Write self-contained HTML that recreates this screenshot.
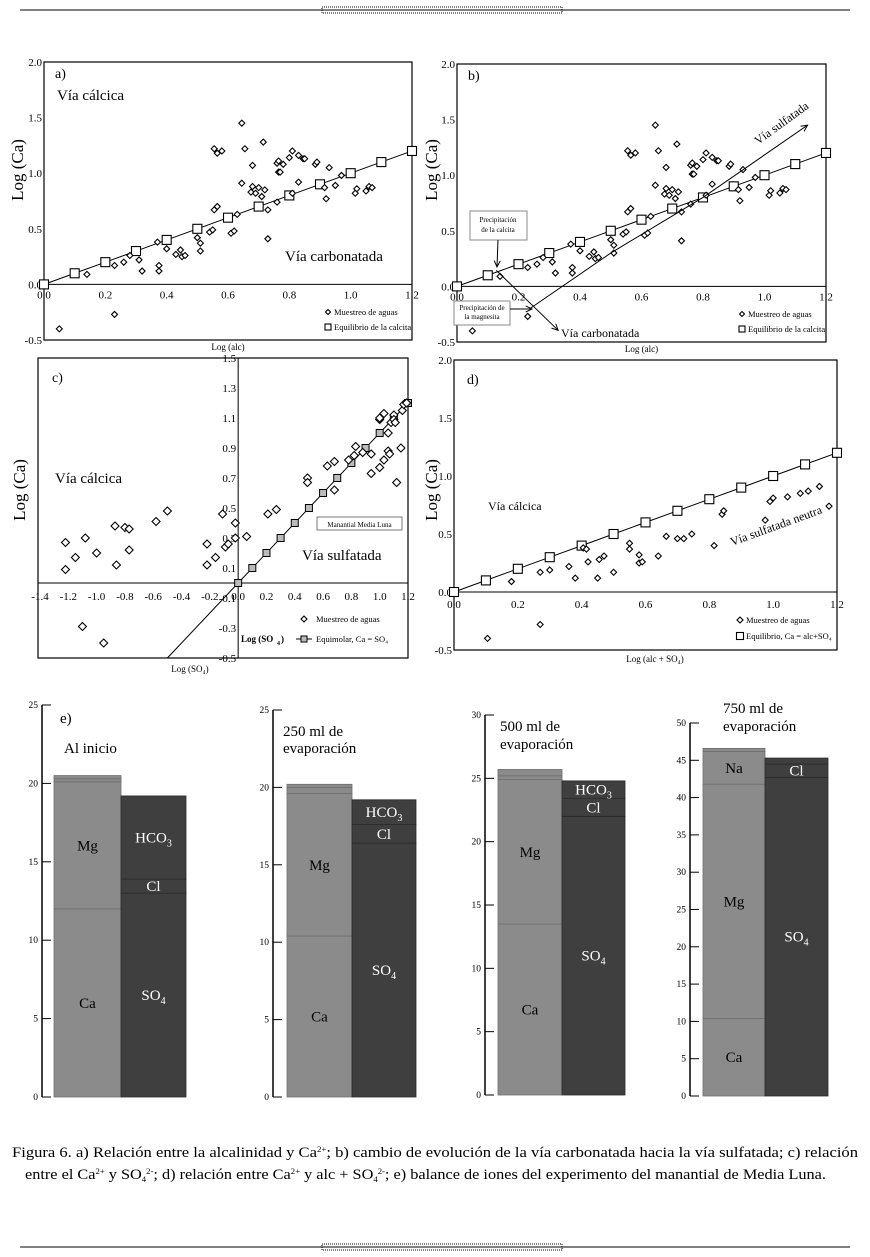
<!DOCTYPE html>
<html><head><meta charset="utf-8">
<style>
html,body{margin:0;padding:0;background:#fff;}
svg{display:block;font-family:"Liberation Serif",serif;}
</style></head>
<body>
<svg id="fig" width="870" height="1257" viewBox="0 0 870 1257" xmlns="http://www.w3.org/2000/svg">
  <g>
    <line x1="20" y1="10" x2="850" y2="10" stroke="#000" stroke-width="1"/>
    <rect x="322" y="7" width="240" height="6" fill="none" stroke="#000" stroke-width="1" stroke-dasharray="1 1"/>
  </g>
  <g>
    <line x1="20" y1="1247" x2="850" y2="1247" stroke="#000" stroke-width="1"/>
    <rect x="322" y="1244" width="240" height="6" fill="none" stroke="#000" stroke-width="1" stroke-dasharray="1 1"/>
  </g>
  <g id="layer"></g>
  <text x="12" y="1157" font-size="15" textLength="846" lengthAdjust="spacingAndGlyphs">Figura 6. a) Relación entre la alcalinidad y Ca<tspan font-size="8" dy="-5">2+</tspan><tspan dy="5">; b) cambio de evolución de la vía carbonatada hacia la vía sulfatada; c) relación</tspan></text>
  <text x="25" y="1179" font-size="15" textLength="801" lengthAdjust="spacingAndGlyphs">entre el Ca<tspan font-size="8" dy="-5">2+</tspan><tspan dy="5"> y SO</tspan><tspan font-size="8" dy="3">4</tspan><tspan font-size="8" dy="-8">2-</tspan><tspan dy="5">; d) relación entre Ca</tspan><tspan font-size="8" dy="-5">2+</tspan><tspan dy="5"> y alc + SO</tspan><tspan font-size="8" dy="3">4</tspan><tspan font-size="8" dy="-8">2-</tspan><tspan dy="5">; e) balance de iones del experimento del manantial de Media Luna.</tspan></text>
</svg>
<script>
// ---------- DATA ----------
const alcX = [0.05,0.23,0.14,0.23,0.26,0.28,0.31,0.32,0.37,0.375,0.375,0.40,0.43,0.445,0.45,0.46,0.50,0.51,0.51,0.54,0.55,0.555,0.565,0.555,0.565,0.58,0.61,0.62,0.63,0.645,0.655,0.645,0.68,0.68,0.675,0.69,0.70,0.71,0.715,0.72,0.73,0.73,0.76,0.76,0.765,0.765,0.77,0.78,0.80,0.81,0.81,0.83,0.83,0.845,0.85,0.885,0.89,0.915,0.92,0.93,0.95,0.97,1.015,1.02,1.05,1.06,1.07];
const alcCa = [-0.40,-0.27,0.09,0.17,0.20,0.26,0.22,0.12,0.38,0.17,0.12,0.32,0.27,0.31,0.25,0.26,0.42,0.37,0.30,0.47,0.49,0.67,0.70,1.22,1.18,1.20,0.46,0.48,0.63,1.45,1.22,0.91,1.07,0.88,0.83,0.82,0.87,0.79,1.28,0.85,0.67,0.41,0.74,1.09,1.11,1.01,1.01,1.08,1.14,1.20,0.82,0.92,1.16,1.13,1.13,1.08,1.10,0.87,0.77,1.05,0.89,0.98,0.82,0.86,0.84,0.88,0.87];
const eqX = [0,0.1,0.2,0.3,0.4,0.5,0.6,0.7,0.8,0.9,1.0,1.1,1.2];
const eqY = [0,0.1,0.2,0.3,0.4,0.5,0.6,0.7,0.8,0.9,1.0,1.1,1.2];
const sulfX = [0.237,0.5,0.8,1.14];
const sulfY = [-0.2,0.3,0.8,1.45];
const so4X = [-1.22,-1.22,-1.15,-1.08,-1.0,-0.87,-0.86,-0.80,-0.77,-0.77,-0.58,-0.50,-0.22,-0.22,-0.16,-0.11,-0.09,-0.07,-0.02,-0.02,0.06,0.21,0.27,-1.1,-0.95,0.49,0.49,0.63,0.68,0.68,0.78,0.82,0.83,0.88,0.94,0.94,1.0,1.0,1.0,1.03,1.03,1.06,1.06,1.08,1.07,1.10,1.10,1.11,1.12,1.15,1.16,1.17,1.19];
const so4Ca = [0.27,0.09,0.17,0.30,0.20,0.38,0.12,0.37,0.36,0.22,0.41,0.48,0.26,0.12,0.17,0.46,0.24,0.26,0.40,0.30,0.31,0.46,0.49,-0.29,-0.40,0.70,0.67,0.78,0.81,0.62,0.82,0.85,0.91,0.87,0.86,0.73,0.77,1.09,1.10,0.82,1.13,0.88,1.00,1.07,0.86,1.12,1.09,1.07,0.67,0.90,1.15,1.19,1.20];
const sumX = [0.105,0.27,0.18,0.27,0.30,0.36,0.38,0.405,0.415,0.42,0.45,0.455,0.47,0.50,0.55,0.55,0.58,0.58,0.59,0.64,0.665,0.70,0.72,0.745,0.815,0.84,0.845,0.975,0.99,1.0,1.045,1.085,1.11,1.145,1.175];
const sumCa = [-0.40,-0.28,0.09,0.17,0.19,0.22,0.12,0.38,0.37,0.26,0.12,0.28,0.31,0.17,0.42,0.37,0.32,0.25,0.26,0.31,0.48,0.46,0.46,0.50,0.40,0.67,0.70,0.62,0.78,0.81,0.82,0.85,0.87,0.91,0.74];
const cationTops = [[12.0,20.1,20.3,20.5],[10.4,19.6,20.0,20.2],[13.5,24.9,25.2,25.7],[10.4,41.8,46.2,46.6]];
const anionTops = [[13.0,13.9,19.2],[16.4,17.6,19.2],[22.0,23.4,24.8],[42.7,44.5,45.3]];
const barMax = [25,25,30,50];
const barTicks = [[0,5,10,15,20,25],[0,5,10,15,20,25],[0,5,10,15,20,25,30],[0,5,10,15,20,25,30,35,40,45,50]];

// ---------- HELPERS ----------
const NS="http://www.w3.org/2000/svg";
const L=document.getElementById('layer');
function mk(tag,attrs,parent){const e=document.createElementNS(NS,tag);for(const k in attrs)e.setAttribute(k,attrs[k]);(parent||L).appendChild(e);return e;}
function txt(x,y,s,size,opts,name){opts=opts||{};const e=mk('text',Object.assign({x:x,y:y,'font-size':size},opts));e.textContent=s;


return e;}
function diamond(cx,cy,r){return mk('polygon',{points:`${cx},${cy-r} ${cx+r},${cy} ${cx},${cy+r} ${cx-r},${cy}`,fill:'#fff',stroke:'#000','stroke-width':1.1});}
function square(cx,cy,r){return mk('rect',{x:cx-r,y:cy-r,width:2*r,height:2*r,fill:'#fff',stroke:'#000','stroke-width':1.1});}

function scatterPanel(cfg){
  const sx=v=>cfg.x0+(v-cfg.xmin)/(cfg.xmax-cfg.xmin)*(cfg.x1-cfg.x0);
  const sy=v=>cfg.y0-(v-cfg.ymin)/(cfg.ymax-cfg.ymin)*(cfg.y0-cfg.y1);
  const fr=mk('rect',{x:cfg.fx0,y:cfg.fy0,width:cfg.fx1-cfg.fx0,height:cfg.fy1-cfg.fy0,fill:'none',stroke:'#000','stroke-width':1.2});
  
  
  return {sx,sy};
}

function drawAB(name,x0,x1,y2,y0,ym){
  const A=scatterPanel({name:name,x0:x0,x1:x1,xmin:0,xmax:1.2,y0:ym,y1:y2,ymin:-0.5,ymax:2.0,fx0:x0,fx1:x1,fy0:y2,fy1:ym});
  const ax=mk('line',{x1:x0,y1:A.sy(0),x2:x1,y2:A.sy(0),stroke:'#000','stroke-width':1});
  
  
  [2.0,1.5,1.0,0.5,0.0,-0.5].forEach(v=>txt(x0-2,A.sy(v)+4,v.toFixed(1),11,{'text-anchor':'end'},name+'-y-tick'));
  [0,0.2,0.4,0.6,0.8,1.0,1.2].forEach(v=>txt(A.sx(v),A.sy(0)+14,v.toFixed(1),11,{'text-anchor':'middle'},name+'-x-tick'));
  const pts=eqX.map((v,i)=>A.sx(v)+','+A.sy(eqY[i])).join(' ');
  const pl=mk('polyline',{points:pts,fill:'none',stroke:'#000','stroke-width':1});
  
  
  eqX.forEach((v,i)=>{const s=square(A.sx(v),A.sy(eqY[i]),4.5);
    
    });
  alcX.forEach((v,i)=>{const d=diamond(A.sx(v),A.sy(alcCa[i]),3);
    
    });
  txt(A.sx(0.6),ym+10,'Log (alc)',9,{'text-anchor':'middle'},name+'-x-axis-title');
  const lx=x1-84;
  diamond(lx,ym-28,2.5);
  txt(lx+6,ym-25,'Muestreo de aguas',8.5,{},name+'-legend-samples');
  square(lx,ym-13,3);
  txt(lx+6,ym-10,'Equilibrio de la calcita',8.5,{},name+'-legend-equilibrium');
  return A;
}
const A=drawAB('panel-a',44,412,62,284,340);
txt(55,78,'a)',14,{},'panel-a-label');
txt(57,100,'Vía cálcica',15,{},'panel-a-calcic-label');
txt(285,261,'Vía carbonatada',15,{},'panel-a-carbonate-label');
txt(23,170,'Log (Ca)',17,{transform:'rotate(-90 23 170)','text-anchor':'middle'},'panel-a-y-axis-title');

const B=drawAB('panel-b',457,826,64,286,342);
txt(468,80,'b)',14,{},'panel-b-label');
txt(437,170,'Log (Ca)',17,{transform:'rotate(-90 437 170)','text-anchor':'middle'},'panel-b-y-axis-title');
const sp=sulfX.map((v,i)=>B.sx(v)+','+B.sy(sulfY[i])).join(' ');
const sl=mk('polyline',{points:sp,fill:'none',stroke:'#000','stroke-width':1});


function arrowHead(x1,y1,x2,y2,name){const a=Math.atan2(y2-y1,x2-x1),h=7;
  const p=mk('polyline',{points:`${x2-h*Math.cos(a-0.45)},${y2-h*Math.sin(a-0.45)} ${x2},${y2} ${x2-h*Math.cos(a+0.45)},${y2-h*Math.sin(a+0.45)}`,fill:'none',stroke:'#000','stroke-width':1});
  
  }
arrowHead(B.sx(0.8),B.sy(0.8),B.sx(1.14),B.sy(1.45),'sulfate-arrow-head');
const cl=mk('line',{x1:B.sx(0.128),y1:B.sy(0.144),x2:B.sx(0.329),y2:B.sy(-0.395),stroke:'#000','stroke-width':1});


arrowHead(B.sx(0.128),B.sy(0.144),B.sx(0.329),B.sy(-0.395),'carbonate-arrow-head');
txt(561,337,'Vía carbonatada',12,{},'panel-b-carbonate-label');
txt(758,145,'Vía sulfatada',12,{transform:'rotate(-36 758 145)'},'panel-b-sulfate-label');
const b1=mk('rect',{x:470,y:211,width:57,height:29,fill:'#fff',stroke:'#888','stroke-width':1});


txt(498,222,'Precipitación',7,{'text-anchor':'middle'},'calcite-box-line1');
txt(498,232,'de la calcita',7,{'text-anchor':'middle'},'calcite-box-line2');
const a1=mk('line',{x1:498,y1:240,x2:497,y2:267,stroke:'#000','stroke-width':1});


arrowHead(498,240,497,267,'calcite-arrow-head');
const b2=mk('rect',{x:454,y:301,width:56,height:24,fill:'#fff',stroke:'#888','stroke-width':1});


txt(482,310,'Precipitación de',7,{'text-anchor':'middle'},'magnesite-box-line1');
txt(482,319,'la magnesita',7,{'text-anchor':'middle'},'magnesite-box-line2');
const a2=mk('line',{x1:510,y1:309,x2:532,y2:309,stroke:'#000','stroke-width':1});


arrowHead(510,309,532,309,'magnesite-arrow-head');

(function(){
  const C=scatterPanel({name:'panel-c',x0:40,x1:408,xmin:-1.4,xmax:1.2,y0:658,y1:358,ymin:-0.5,ymax:1.5,fx0:38,fx1:408,fy0:358,fy1:658});
  const h=mk('line',{x1:38,y1:C.sy(0),x2:408,y2:C.sy(0),stroke:'#000','stroke-width':1});
  
  
  const v=mk('line',{x1:C.sx(0),y1:358,x2:C.sx(0),y2:658,stroke:'#000','stroke-width':1});
  
  
  [1.5,1.3,1.1,0.9,0.7,0.5,0.3,0.1,-0.1,-0.3,-0.5].forEach(t=>txt(C.sx(0)-2,C.sy(t)+4,t.toFixed(1),11,{'text-anchor':'end'},'panel-c-y-tick'));
  [-1.4,-1.2,-1.0,-0.8,-0.6,-0.4,-0.2,0,0.2,0.4,0.6,0.8,1.0,1.2].forEach(t=>txt(C.sx(t),C.sy(0)+17,t.toFixed(1),11,{'text-anchor':'middle'},'panel-c-x-tick'));
  const l=mk('line',{x1:C.sx(-0.5),y1:C.sy(-0.5),x2:C.sx(1.2),y2:C.sy(1.2),stroke:'#000','stroke-width':1});
  
  
  eqX.forEach((x,i)=>{const s=mk('rect',{x:C.sx(x)-3.5,y:C.sy(eqY[i])-3.5,width:7,height:7,fill:'#bbb',stroke:'#000','stroke-width':1});
    
    });
  so4X.forEach((x,i)=>{const d=diamond(C.sx(x),C.sy(so4Ca[i]),4);
    
    });
})();
txt(52,382,'c)',14,{},'panel-c-label');
txt(55,483,'Vía cálcica',15,{},'panel-c-calcic-label');
txt(302,560,'Vía sulfatada',15,{},'panel-c-sulfate-label');
txt(25,490,'Log (Ca)',17,{transform:'rotate(-90 25 490)','text-anchor':'middle'},'panel-c-y-axis-title');
const mb=mk('rect',{x:317,y:517,width:85,height:13,fill:'#fff',stroke:'#777','stroke-width':1});


txt(359.5,527,'Manantial Media Luna',7,{'text-anchor':'middle'},'spring-name-label');
txt(241,642,'Log (SO',9,{'font-weight':'bold'},'panel-c-inner-axis-title');
txt(277,645,'4',6,{'font-weight':'bold'},'panel-c-inner-axis-sub');
txt(281,642,')',9,{'font-weight':'bold'},'panel-c-inner-axis-close');
diamond(304,619,3);
txt(316,622,'Muestreo de aguas',8.5,{},'panel-c-legend-samples');
const ll=mk('line',{x1:296,y1:639,x2:312,y2:639,stroke:'#000','stroke-width':1});


mk('rect',{x:301,y:636,width:6,height:6,fill:'#bbb',stroke:'#000','stroke-width':1});
txt(316,642,'Equimolar, Ca = SO₄',8.5,{},'panel-c-legend-equimolar');
txt(190,672,'Log (SO₄)',9,{'text-anchor':'middle'},'panel-c-x-axis-title');

(function(){
  const D=scatterPanel({name:'panel-d',x0:454,x1:837,xmin:0,xmax:1.2,y0:650,y1:360,ymin:-0.5,ymax:2.0,fx0:454,fx1:837,fy0:360,fy1:650});
  const ax=mk('line',{x1:454,y1:D.sy(0),x2:837,y2:D.sy(0),stroke:'#000','stroke-width':1});
  
  
  [2.0,1.5,1.0,0.5,0.0,-0.5].forEach(t=>txt(452,D.sy(t)+4,t.toFixed(1),11,{'text-anchor':'end'},'panel-d-y-tick'));
  [0,0.2,0.4,0.6,0.8,1.0,1.2].forEach(t=>txt(D.sx(t),D.sy(0)+16,t.toFixed(1),11,{'text-anchor':'middle'},'panel-d-x-tick'));
  const pl=mk('polyline',{points:eqX.map((x,i)=>D.sx(x)+','+D.sy(eqY[i])).join(' '),fill:'none',stroke:'#000','stroke-width':1});
  
  
  eqX.forEach((x,i)=>{const s=square(D.sx(x),D.sy(eqY[i]),4.5);
    
    });
  sumX.forEach((x,i)=>{const d=diamond(D.sx(x),D.sy(sumCa[i]),3);
    
    });
})();
txt(467,384,'d)',14,{},'panel-d-label');
txt(488,510,'Vía cálcica',12,{},'panel-d-calcic-label');
txt(732,546,'Vía sulfatada neutra',12,{transform:'rotate(-20 732 546)'},'panel-d-neutral-sulfate-label');
txt(437,490,'Log (Ca)',17,{transform:'rotate(-90 437 490)','text-anchor':'middle'},'panel-d-y-axis-title');
diamond(740,620,3);
txt(746,623,'Muestreo de aguas',8.5,{},'panel-d-legend-samples');
square(740,636,3.5);
txt(746,639,'Equilibrio, Ca = alc+SO₄',8.5,{},'panel-d-legend-equilibrium');
txt(655,662,'Log (alc + SO₄)',9,{'text-anchor':'middle'},'panel-d-x-axis-title');

const barGeom=[{ax:42,y0:1097,yt:705,g0:54,g1:121,d1:186},{ax:273,y0:1097,yt:710,g0:287,g1:352,d1:416},{ax:485,y0:1095,yt:715,g0:498,g1:562,d1:625},{ax:690,y0:1096,yt:723,g0:703,g1:765,d1:828}];
barGeom.forEach((g,k)=>{
  const sy=v=>g.y0-v/barMax[k]*(g.y0-g.yt);
  const axl=mk('line',{x1:g.ax,y1:g.yt,x2:g.ax,y2:g.y0,stroke:'#000','stroke-width':1.5});
  
  
  barTicks[k].forEach(t=>{mk('line',{x1:g.ax,y1:sy(t),x2:g.ax+9,y2:sy(t),stroke:'#000','stroke-width':1});
    txt(g.ax-4,sy(t)+3,String(t),9.5,{'text-anchor':'end'},'bar-chart-'+(k+1)+'-tick');});
  let prev=0;
  cationTops[k].forEach((top,i)=>{
    const r=mk('rect',{x:g.g0,y:sy(top),width:g.g1-g.g0,height:sy(prev)-sy(top),fill:'#8b8b8b',stroke:'#6e6e6e','stroke-width':0.8});
    
    
    prev=top;});
  prev=0;
  anionTops[k].forEach((top,i)=>{
    const r=mk('rect',{x:g.g1,y:sy(top),width:g.d1-g.g1,height:sy(prev)-sy(top),fill:'#3f3f3f',stroke:'#2a2a2a','stroke-width':0.8});
    
    
    prev=top;});
  const gc=(g.g0+g.g1)/2, dc=(g.g1+g.d1)/2;
  const c=cationTops[k], a=anionTops[k];
  txt(gc,sy(c[0]/2)+5,'Ca',15,{'text-anchor':'middle'},'bar-chart-'+(k+1)+'-ca-label');
  txt(gc,sy((c[0]+c[1])/2)+5,'Mg',15,{'text-anchor':'middle'},'bar-chart-'+(k+1)+'-mg-label');
  if(k===3) txt(gc,sy((c[1]+c[2])/2)+5,'Na',15,{'text-anchor':'middle'},'bar-chart-4-na-label');
  const so=txt(dc,sy(a[0]/2)+5,'SO',15,{'text-anchor':'middle',fill:'#fff'},'bar-chart-'+(k+1)+'-so4-label');
  const s1=mk('tspan',{'font-size':10,dy:4},so); s1.textContent='4';
  txt(dc,sy((a[0]+a[1])/2)+5,'Cl',15,{'text-anchor':'middle',fill:'#fff'},'bar-chart-'+(k+1)+'-cl-label');
  if(k<3){const hc=txt(dc,sy((a[1]+a[2])/2)+5,'HCO',15,{'text-anchor':'middle',fill:'#fff'},'bar-chart-'+(k+1)+'-hco3-label');
    const s2=mk('tspan',{'font-size':10,dy:4},hc); s2.textContent='3';}
});
txt(60,723,'e)',15,{},'panel-e-label');
txt(64,753,'Al inicio',15,{},'bar-chart-1-title');
txt(283,736,'250 ml de',15,{},'bar-chart-2-title-line1');
txt(283,753,'evaporación',15,{},'bar-chart-2-title-line2');
txt(500,731,'500 ml de',15,{},'bar-chart-3-title-line1');
txt(500,749,'evaporación',15,{},'bar-chart-3-title-line2');
txt(723,713,'750 ml de',15,{},'bar-chart-4-title-line1');
txt(723,731,'evaporación',15,{},'bar-chart-4-title-line2');
</script>
</body></html>
